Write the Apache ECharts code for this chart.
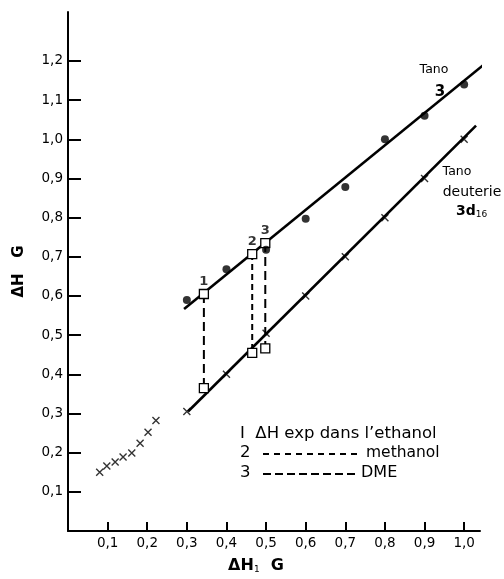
<!DOCTYPE html>
<html>
<head>
<meta charset="utf-8">
<script src="https://cdn.jsdelivr.net/npm/echarts@6/dist/echarts.min.js"></script>
<style>
  html, body { margin: 0; padding: 0; background: #fff; }
  #main { width: 504px; height: 579px; }
</style>
</head>
<body>
<div id="main"></div>
<script>
// Tano 3 (points noirs)
const tanoX = [0.3, 0.4, 0.5, 0.6, 0.7, 0.8, 0.9, 1.0];
const tanoY = [0.59, 0.668, 0.718, 0.797, 0.878, 1.0, 1.06, 1.14];
// Tano deuterie 3d16 (croix)
const deutX = [0.08, 0.098, 0.119, 0.139, 0.161, 0.182, 0.202, 0.222, 0.3, 0.4, 0.5, 0.6, 0.7, 0.8, 0.9, 1.0];
const deutY = [0.15, 0.166, 0.176, 0.189, 0.199, 0.224, 0.252, 0.282, 0.305, 0.40, 0.505, 0.60, 0.70, 0.80, 0.90, 1.0];
// droites tracees
const tanoFit = [[0.293, 0.567], [1.055, 1.195]];
const deutFit = [[0.303, 0.305], [1.03, 1.035]];
// Delta H exp : 1 ethanol, 2 methanol, 3 DME
const expX = [0.343, 0.465, 0.498];
const expTop = [0.605, 0.707, 0.735];
const expBottom = [0.365, 0.455, 0.466];
const expLabels = ['1', '2', '3'];
const tickValues = [0.1, 0.2, 0.3, 0.4, 0.5, 0.6, 0.7, 0.8, 0.9, 1.0];
const yTickValues = [0.1, 0.2, 0.3, 0.4, 0.5, 0.6, 0.7, 0.8, 0.9, 1.0, 1.1, 1.2];

const font = 'DejaVu Sans';
const fmt = v => v.toFixed(1).replace('.', ',');

const chart = echarts.init(document.getElementById('main'));

const dashes = [[9, 5], [6, 4], [9, 5]];
const expSeries = expX.map((x, i) => ({
  type: 'line',
  data: [[x, expTop[i]], [x, expBottom[i]]],
  symbol: 'rect',
  symbolSize: 9,
  itemStyle: { color: '#fff', borderColor: '#000', borderWidth: 1.3 },
  lineStyle: { color: '#000', width: 2, type: dashes[i] },
  z: 3,
  silent: true
}));

const txt = (x, y, text, size, weight, align) => ({
  type: 'text', x: x, y: y,
  style: {
    text: text, font: (weight || 'normal') + ' ' + size + 'px ' + font, fill: '#000',
    verticalAlign: 'middle', align: align || 'left'
  }
});
const dashLine = (x1, x2, y, dash) => ({
  type: 'line', shape: { x1: x1, y1: y, x2: x2, y2: y },
  style: { stroke: '#000', lineWidth: 1.8, lineDash: dash }
});

const option = {
  animation: false,
  grid: { left: 68, right: 24, top: 12, bottom: 41 },
  xAxis: {
    type: 'value', min: 0, max: 1.04,
    splitLine: { show: false },
    axisLine: { lineStyle: { color: '#000', width: 2 } },
    axisTick: { inside: true, length: 9, customValues: tickValues, lineStyle: { color: '#000', width: 2 } },
    axisLabel: { customValues: tickValues, formatter: fmt, color: '#000', fontFamily: font, fontSize: 13.5, margin: 5 },
    name: '{a|ΔH}{s|1}{a|  G}',
    nameLocation: 'middle', nameGap: 27,
    nameTextStyle: {
      padding: [0, 36, 0, 0],
      rich: {
        a: { fontFamily: font, fontSize: 16, fontWeight: 'bold', color: '#000' },
        s: { fontFamily: font, fontSize: 9, color: '#000', verticalAlign: 'bottom', padding: [7, 0, 0, 0] }
      }
    }
  },
  yAxis: {
    type: 'value', min: 0, max: 1.325,
    splitLine: { show: false },
    axisLine: { lineStyle: { color: '#000', width: 2 } },
    axisTick: { inside: true, length: 13, customValues: yTickValues, lineStyle: { color: '#000', width: 2 } },
    axisLabel: { customValues: yTickValues, formatter: fmt, color: '#000', fontFamily: font, fontSize: 13.5, margin: 5 },
    name: 'ΔH   G',
    nameLocation: 'middle', nameGap: 41, nameRotate: 90,
    nameTextStyle: { fontFamily: font, fontSize: 15, fontWeight: 'bold', color: '#000' }
  },
  series: [
    {
      type: 'line', data: tanoFit, symbol: 'none', clip: false,
      lineStyle: { color: '#000', width: 2.6 }, silent: true
    },
    {
      type: 'line', data: deutFit, symbol: 'none', clip: false,
      lineStyle: { color: '#000', width: 2.6 }, silent: true
    },
    {
      type: 'scatter',
      data: tanoX.map((x, i) => [x, tanoY[i]]),
      symbol: 'circle', symbolSize: 8,
      itemStyle: { color: '#000' }, z: 4
    },
    {
      type: 'scatter',
      data: deutX.map((x, i) => [x, deutY[i]]),
      symbol: 'path://M0,0L10,10M10,0L0,10', symbolSize: 7,
      itemStyle: { color: 'none', borderColor: '#000', borderWidth: 1.4 }, z: 4
    },
    ...expSeries,
    {
      type: 'scatter',
      data: expX.map((x, i) => [x, expTop[i]]),
      symbolSize: 0,
      label: {
        show: true, position: 'top', distance: 6,
        formatter: p => expLabels[p.dataIndex],
        color: '#000', fontFamily: font, fontSize: 13, fontWeight: 'bold'
      },
      silent: true
    }
  ],
  graphic: [
    txt(434, 70, 'Tano', 12.5, 'normal', 'center'),
    txt(440, 92, '3', 15, 'bold', 'center'),
    txt(457, 172, 'Tano', 12.5, 'normal', 'center'),
    txt(472, 192, 'deuterie', 14, 'normal', 'center'),
    {
      type: 'text', x: 456, y: 211,
      style: {
        text: '{a|3d}{s|16}', verticalAlign: 'middle',
        rich: {
          a: { font: 'bold 14px ' + font, fill: '#000' },
          s: { font: '9px ' + font, fill: '#000', padding: [7, 0, 0, 0] }
        }
      }
    },
    txt(240, 434, 'I  ΔH exp dans l\u2019ethanol', 16.5),
    txt(240, 453, '2', 16.5),
    dashLine(263, 357, 454, [6, 5]),
    txt(366, 453, 'methanol', 15.5),
    txt(240, 473, '3', 16.5),
    dashLine(263, 356, 474, [8, 4]),
    txt(361, 473, 'DME', 16)
  ]
};

chart.setOption(option);
</script>
</body>
</html>
